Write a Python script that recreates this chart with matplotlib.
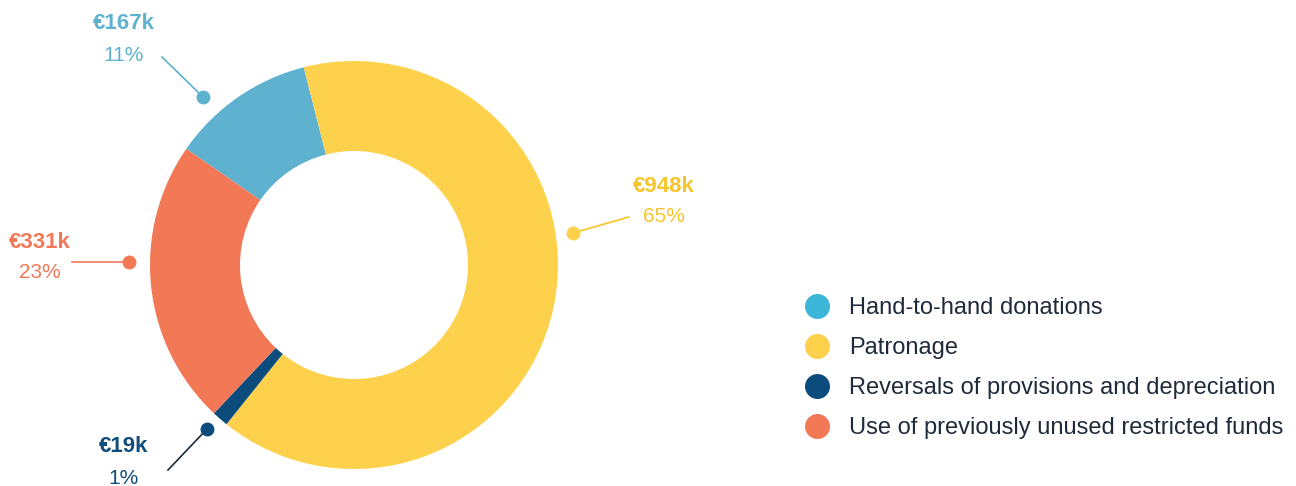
import matplotlib
matplotlib.use("Agg")
import matplotlib.pyplot as plt
from matplotlib.lines import Line2D

categories = ["Hand-to-hand donations", "Patronage",
              "Reversals of provisions and depreciation",
              "Use of previously unused restricted funds"]
values_k = [167, 948, 19, 331]
value_labels = ["€167k", "€948k", "€19k", "€331k"]
pct_labels = ["11%", "65%", "1%", "23%"]

slice_colors = ["#5fb1d0", "#fdd14b", "#0b4c7c", "#f27856"]
legend_colors = ["#3bb6d8", "#fdd14b", "#0b4c7c", "#f27856"]
label_colors = ["#5fb1d0", "#f7c52a", "#0f4d7c", "#f27856"]
line_colors = ["#5fb1d0", "#f7c52a", "#1a2b3c", "#f27856"]

plt.rcParams['font.family'] = ['Liberation Sans', 'DejaVu Sans']

W, H = 1296, 486
fig = plt.figure(figsize=(W / 100, H / 100), dpi=100)
ax = fig.add_axes([0, 0, 1, 1])

def P(x, y):
    return (x, H - y)

cx, cy = P(354, 265)
ax.pie(values_k, colors=slice_colors, startangle=145.3, counterclock=False,
       radius=204, center=(cx, cy), wedgeprops=dict(width=90, linewidth=0),
       frame=True)
ax.set_xlim(0, W)
ax.set_ylim(0, H)
ax.set_aspect('equal')
ax.axis('off')

# annotation layout: dot, line end, value-label center, pct-label center (image px)
annots = [
    ((203, 97), (162, 57), (124, 24), (124, 56)),
    ((573, 233), (629, 217), (664, 186), (664, 216)),
    ((207, 429), (168, 470), (124, 447), (124, 478)),
    ((129, 262), (72, 262), (40, 243), (40, 273)),
]
for i, (dot, lend, vpos, ppos) in enumerate(annots):
    ax.plot([P(*dot)[0], P(*lend)[0]], [P(*dot)[1], P(*lend)[1]],
            color=line_colors[i], lw=1.2, zorder=3)
    ax.plot(*P(*dot), 'o', ms=10, color=slice_colors[i], mec='none', zorder=4)
    ax.text(*P(*vpos), value_labels[i], color=label_colors[i], fontsize=16,
            fontweight='bold', ha='center', va='center')
    ax.text(*P(*ppos), pct_labels[i], color=label_colors[i], fontsize=15,
            ha='center', va='center')

handles = [Line2D([], [], marker='o', linestyle='none', markersize=18,
                  markerfacecolor=c, markeredgecolor='none') for c in legend_colors]
leg = ax.legend(handles, categories, loc='center left',
                bbox_to_anchor=(805 / W, 1 - 368 / H), frameon=False,
                fontsize=17, labelspacing=0.76, handletextpad=0.85,
                handlelength=1.0, borderaxespad=0, borderpad=0)
for t in leg.get_texts():
    t.set_color('#1f2a3a')

fig.savefig("out.png", dpi=100, facecolor='white')
